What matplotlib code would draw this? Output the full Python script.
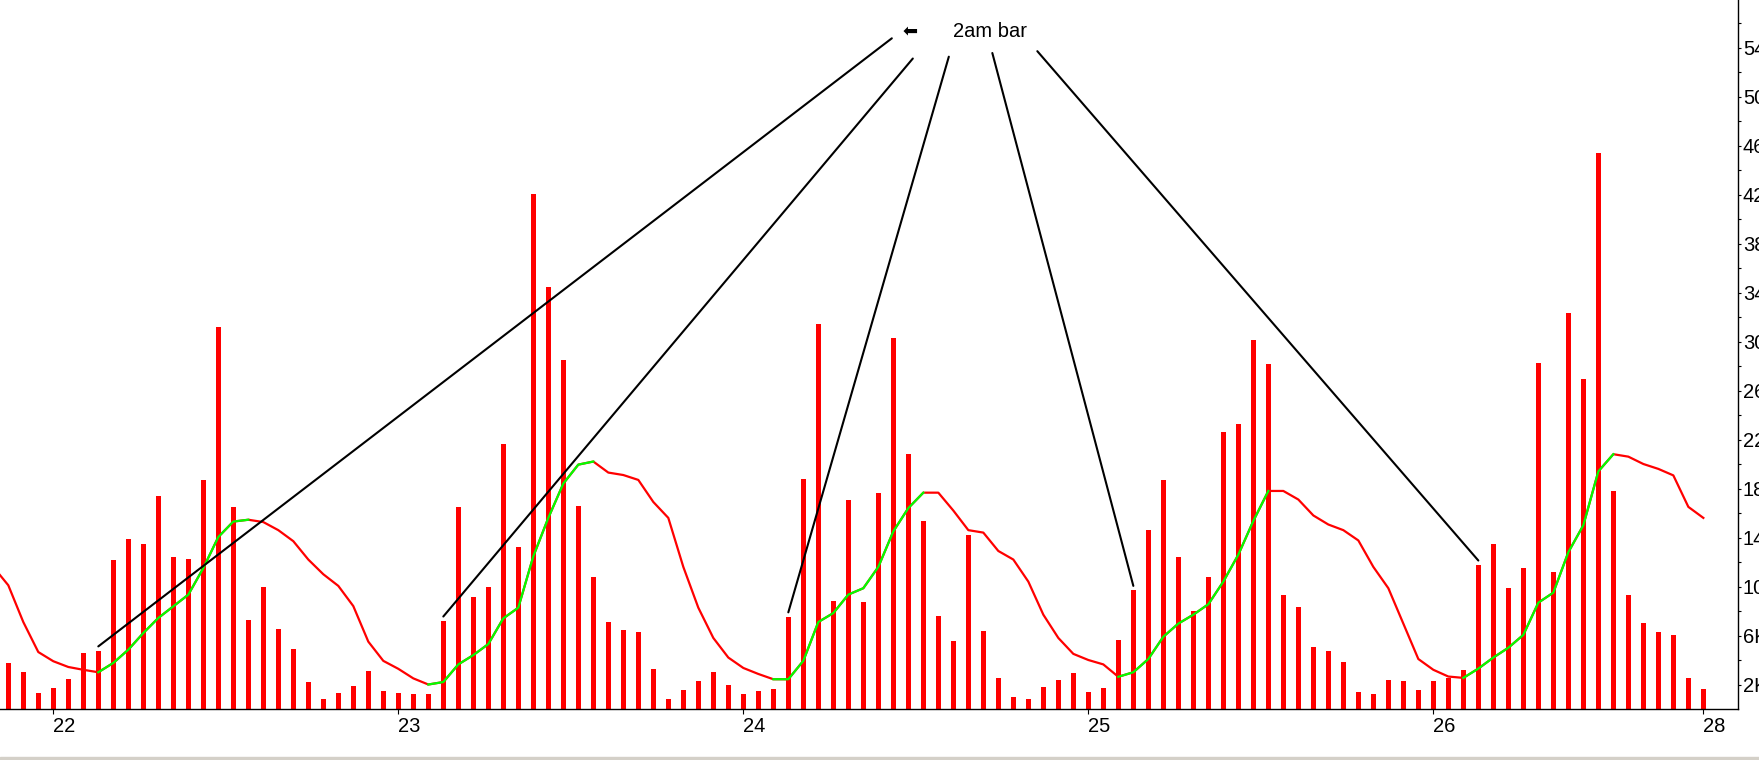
import numpy as np
import matplotlib
matplotlib.use("Agg")
import matplotlib.pyplot as plt
from matplotlib.patches import Rectangle

plt.rcParams['font.family'] = ['Liberation Sans', 'DejaVu Sans']

# hourly volume (thousands), one bar per trading hour
volume = [3.76, 3.05, 1.33, 1.74, 2.48, 4.6, 4.76, 12.19, 13.88, 13.47,
          17.4, 12.4, 12.27, 18.7, 31.2, 16.5, 7.3, 10.0, 6.56, 4.9,
          2.2, 0.82, 1.33, 1.9, 3.1, 1.48, 1.33, 1.25, 1.25, 7.2,
          16.5, 9.13, 10.0, 21.6, 13.2, 42.05, 34.45, 28.5, 16.56, 10.8,
          7.1, 6.45, 6.27, 3.27, 0.81, 1.56, 2.28, 3.0, 1.97, 1.21,
          1.47, 1.62, 7.54, 18.8, 31.4, 8.8, 17.1, 8.73, 17.6, 30.3,
          20.8, 15.35, 7.6, 5.55, 14.2, 6.36, 2.54, 0.98, 0.81, 1.79,
          2.37, 2.95, 1.39, 1.7, 5.64, 9.7, 14.6, 18.7, 12.4, 8.0,
          10.8, 22.6, 23.3, 30.1, 28.2, 9.3, 8.3, 5.06, 4.74, 3.84,
          1.39, 1.21, 2.37, 2.28, 1.56, 2.28, 2.55, 3.2, 11.77, 13.47,
          9.88, 11.53, 28.26, 11.2, 32.3, 26.9, 45.4, 17.8, 9.31, 7.0,
          6.29, 6.05, 2.54, 1.65]

# moving average; first value belongs to the hour before the window
avg = [11.6,
       10.1, 7.1, 4.65, 3.9, 3.43, 3.2, 3.0, 3.76, 4.84, 6.2,
       7.43, 8.38, 9.33, 11.5, 14.04, 15.3, 15.45, 15.26, 14.6, 13.7,
       12.2, 11.0, 10.05, 8.4, 5.5, 3.93, 3.28, 2.5, 2.0, 2.2,
       3.64, 4.4, 5.3, 7.4, 8.27, 12.46, 15.6, 18.4, 19.95, 20.2,
       19.3, 19.1, 18.7, 16.9, 15.6, 11.6, 8.27, 5.8, 4.2, 3.35,
       2.86, 2.43, 2.43, 3.93, 7.1, 7.83, 9.34, 9.86, 11.6, 14.5,
       16.4, 17.66, 17.66, 16.2, 14.6, 14.4, 12.9, 12.2, 10.4, 7.7,
       5.8, 4.5, 4.0, 3.64, 2.63, 3.0, 4.08, 5.9, 6.97, 7.7,
       8.55, 10.4, 12.6, 15.35, 17.8, 17.8, 17.1, 15.8, 15.06, 14.6,
       13.76, 11.6, 9.86, 6.97, 4.08, 3.2, 2.65, 2.54, 3.3, 4.2,
       5.0, 6.05, 8.68, 9.5, 12.8, 15.0, 19.4, 20.8, 20.6, 20.0,
       19.6, 19.07, 16.5, 15.6]

# rising stretches of the average (bar index from, to)
rising = [(6, 16), (28, 39), (51, 61), (74, 84), (97, 107)]
# the 2am bar of each day
two_am = [6, 29, 52, 75, 98]

day_pos = [3, 26, 49, 72, 95, 113]
day_labels = ['22', '23', '24', '25', '26', '28']

W, H = 1759, 760
fig = plt.figure(figsize=(W / 100, H / 100), dpi=100)
ax = fig.add_axes([0, 51 / H, 1737.7 / W, 1 - 51 / H])

x = np.arange(len(volume))
ax.bar(x, volume, width=0.36, color='#ff0000', zorder=2)

avg_x = np.arange(-1, len(volume))
avg = np.array(avg)
ax.plot(avg_x, avg, color='#ff0000', lw=1.6, zorder=3)
for s, e in rising:
    ax.plot(avg_x[s + 1:e + 2], avg[s + 1:e + 2], color='#00ff00', lw=1.6, zorder=4)

# annotation lines from the label to each 2am bar
starts = [(58.9, 54.75), (60.3, 53.1), (62.7, 53.25), (65.6, 53.55), (68.6, 53.7)]
for i, (tx, ty) in zip(two_am, starts):
    ax.annotate('', xy=(i, volume[i] + 0.35), xytext=(tx, ty),
                arrowprops=dict(arrowstyle='-', color='black', lw=1.5,
                                shrinkA=0, shrinkB=0), zorder=5)
ax.text(63.0, 55.3, '2am bar', fontsize=14.5, ha='left', va='center')
ax.text(60.1, 55.3, '\u2b05', family='DejaVu Sans', fontsize=13,
        ha='center', va='center')

ax.set_xlim(-0.553, 115.29)
ax.set_ylim(0, 709 / 12.25)

ax.spines['top'].set_visible(False)
ax.spines['left'].set_visible(False)
ax.spines['right'].set_linewidth(1)
ax.spines['bottom'].set_linewidth(1)

ax.yaxis.tick_right()
yt = np.arange(2, 55, 4)
ax.set_yticks(yt)
ax.set_yticklabels([f'{v}K' for v in yt])
ax.set_yticks(np.arange(4, 57, 4), minor=True)
ax.tick_params(axis='y', which='both', length=2.3, width=0.8, direction='out',
               pad=1.5, labelsize=14.5)

ax.set_xticks(day_pos)
ax.set_xticklabels(day_labels)
ax.tick_params(axis='x', length=3.6, width=0.8, pad=2, labelsize=14.5)
for lab in ax.get_xticklabels():
    lab.set_ha('left')

fig.patches.append(Rectangle((0, 0), 1, 3.5 / H, transform=fig.transFigure,
                             color='#d4d0c8'))

fig.savefig('out.png', dpi=100, facecolor='white')
